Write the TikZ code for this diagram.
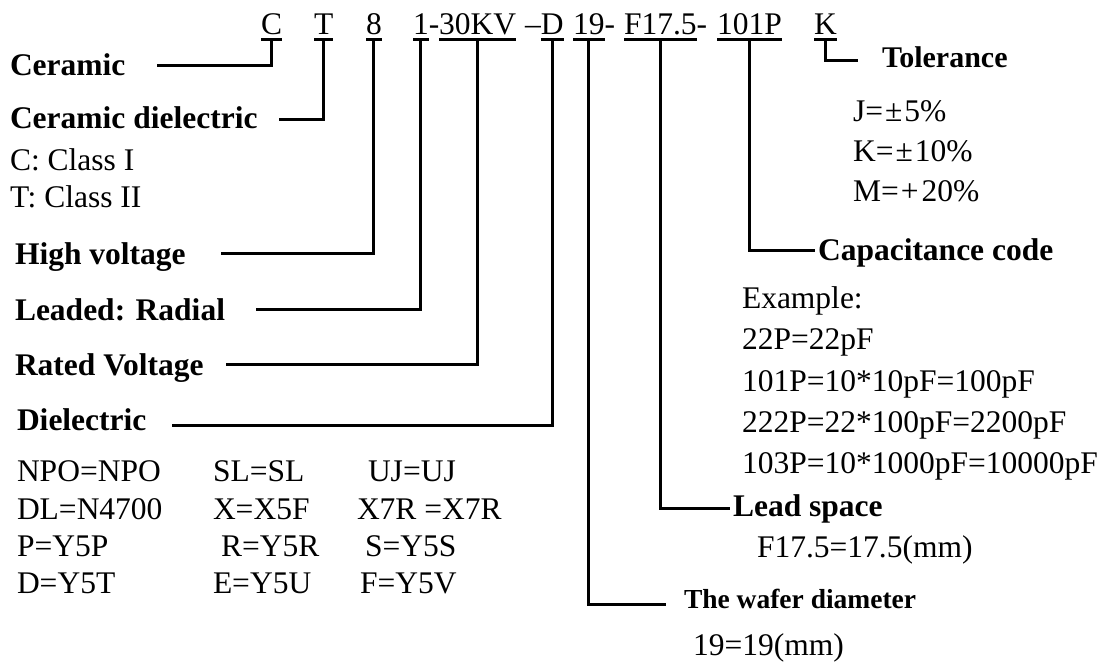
\documentclass[tikz,border=0pt]{standalone}
\usepackage{fontspec}
\setmainfont{Liberation Serif}
\begin{document}
\begin{tikzpicture}[x=1pt,y=-1pt,
  txt/.style={anchor=base west, inner sep=0pt, outer sep=0pt, font=\fontsize{31.5}{37}\selectfont},
  btxt/.style={txt, font=\fontsize{31.5}{37}\selectfont\bfseries},
  code/.style={txt},
  uline/.style={line width=3pt},
  conn/.style={line width=3pt}]
\useasboundingbox (0,0) rectangle (1108,662);
% ---- code line ----
\node[code] (cC) at (261,34) {C};
\node[code] (cT) at (314,34) {T};
\node[code] (c8) at (366,34) {8};
\node[code] (c1) at (413,34) {1};
\node[code] (cd1) at (c1.base east) {-};
\node[code] (cKV) at (cd1.base east) {30KV};
\node[code] (cd2) at (525,34) {–};
\node[code] (cD) at (cd2.base east) {D};
\node[code] (c19) at (573,34) {19};
\node[code] (cd3) at (c19.base east) {-};
\node[code] (cF) at (624,34) {F17.5};
\node[code] (cd4) at (cF.base east) {-};
\node[code] (cP) at (717,34) {101P};
\node[code] (cK) at (814,34) {K};
\foreach \n in {cC,cT,c8,c1,cKV,cD,c19,cF,cP,cK}
  \draw[uline] ([yshift=-5.5pt]\n.base west) -- ([yshift=-5.5pt]\n.base east);
% ---- left labels ----
\node[btxt] (lCer) at (10,75) {Ceramic};
\node[btxt] (lCd) at (10,128) {Ceramic dielectric};
\node[txt] (lC1) at (10,170) {C: Class I};
\node[txt] (lC2) at (10,207) {T: Class II};
\node[btxt] (lHV) at (15,264) {High voltage};
\node[btxt] (lLR) at (15,320) {Leaded: Radial};
\node[btxt] (lRV) at (15,375) {Rated Voltage};
\node[btxt] (lDi) at (17,430) {Dielectric};
% dielectric table
\node[txt] (t11) at (17,481) {NPO=NPO};
\node[txt] (t12) at (213,481) {SL=SL};
\node[txt] (t13) at (368,481) {UJ=UJ};
\node[txt] (t21) at (17,519) {DL=N4700};
\node[txt] (t22) at (213,519) {X=X5F};
\node[txt] (t23) at (357,519) {X7R =X7R};
\node[txt] (t31) at (17,556) {P=Y5P};
\node[txt] (t32) at (221,556) {R=Y5R};
\node[txt] (t33) at (365,556) {S=Y5S};
\node[txt] (t41) at (17,593) {D=Y5T};
\node[txt] (t42) at (213,593) {E=Y5U};
\node[txt] (t43) at (360,593) {F=Y5V};
% ---- right labels ----
\node[btxt, font=\fontsize{30}{36}\selectfont\bfseries] (lTol) at (882,67) {Tolerance};
\node[txt] (tJ) at (853,121) {J=\hspace{2pt}±\hspace{2pt}5\%};
\node[txt] (tK) at (853,161) {K=\hspace{2pt}±\hspace{2pt}10\%};
\node[txt] (tM) at (853,201) {M=\hspace{2pt}+\hspace{3pt}20\%};
\node[btxt] (lCap) at (818,260) {Capacitance code};
\node[txt] (e0) at (742,308) {Example:};
\node[txt] (e1) at (742,349) {22P=22pF};
\node[txt] (e2) at (742,391) {101P=10*10pF=100pF};
\node[txt] (e3) at (742,432) {222P=22*100pF=2200pF};
\node[txt] (e4) at (742,473) {103P=10*1000pF=10000pF};
\node[btxt] (lLS) at (733,516) {Lead space};
\node[txt] (tLS) at (757,557) {F17.5=17.5(mm)};
\node[btxt, font=\fontsize{27.5}{33}\selectfont\bfseries] (lWD) at (684,608) {The wafer diameter};
\node[txt] (tWD) at (693,655) {19=19(mm)};
% ---- connector ends ----
\coordinate (eC) at (157,65);
\coordinate (eT) at (279,119);
\coordinate (e8) at (221,253);
\coordinate (e1) at (256,309);
\coordinate (eKV) at (226,364);
\coordinate (eD) at (172,425);
\coordinate (e19) at (666,604);
\coordinate (eF) at (730,508);
\coordinate (eP) at (815,250);
\coordinate (eK) at (858,60);
\foreach \n/\e in {cC/eC,cT/eT,c8/e8,c1/e1,cKV/eKV,cD/eD,c19/e19,cF/eF,cP/eP,cK/eK}
  \draw[conn] ([yshift=-5.5pt]\n.base) |- (\e);
\end{tikzpicture}
\end{document}
